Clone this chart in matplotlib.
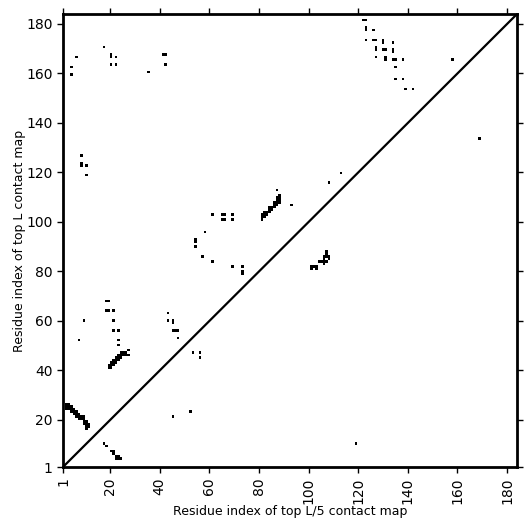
import numpy as np
import matplotlib
matplotlib.use('Agg')
import matplotlib.pyplot as plt

L = 184
ticks = [1, 20, 40, 60, 80, 100, 120, 140, 160, 180]

# contacts above the diagonal (top L map), as (x residue, y residue)
upper_x = [17, 6, 20, 20, 22, 20, 22, 4, 4, 35, 41, 42, 42,
           8, 8, 8, 10, 10, 61, 58, 54, 54, 54, 57, 61,
           18, 19, 18, 19, 21, 43, 113, 108, 87, 93,
           65, 66, 69, 65, 66, 69, 69, 73, 73, 73,
           9, 21, 21, 23, 7, 23, 23, 43, 45, 45, 45, 46, 47, 47, 53, 56, 56,
           122, 123, 123, 123, 126, 123, 126, 127, 130, 130, 134, 127, 127,
           130, 131, 134, 134, 127, 131, 131, 134, 135, 138, 158, 135, 135,
           138, 139, 142,
           81, 81, 81, 82, 82, 82, 83, 83, 84, 84, 84, 85, 85, 86, 86, 86,
           87, 87, 87, 87, 88, 88, 88, 88,
           19, 19, 20, 20, 20, 21, 21, 21, 22, 22, 22, 23, 23, 23, 24, 24, 24,
           25, 25, 26, 26, 27, 27,
           2, 2, 2, 3, 3, 3, 4, 4, 4, 5, 5, 5, 6, 6, 6, 7, 7, 7, 8, 8,
           9, 9, 9, 9, 10, 10, 10, 10, 11, 11]
upper_y = [171, 167, 167, 168, 167, 164, 164, 163, 160, 161, 168, 168, 164,
           127, 123, 124, 123, 119, 103, 96, 92, 93, 90, 86, 84,
           68, 68, 64, 64, 64, 63, 120, 116, 113, 107,
           103, 103, 103, 101, 101, 101, 82, 82, 79, 80,
           60, 60, 56, 56, 52, 52, 50, 60, 59, 60, 56, 56, 56, 53, 47, 47, 45,
           182, 182, 178, 179, 178, 174, 174, 174, 173, 174, 173, 170, 171,
           170, 170, 169, 170, 167, 166, 167, 166, 166, 166, 166, 163, 158,
           158, 154, 154,
           101, 102, 103, 102, 103, 104, 103, 104, 104, 105, 106, 105, 106, 106, 107, 108,
           107, 108, 109, 110, 108, 109, 110, 111,
           41, 42, 41, 42, 43, 42, 43, 44, 43, 44, 45, 44, 45, 46, 45, 46, 47,
           46, 47, 46, 47, 46, 48,
           24, 25, 26, 24, 25, 26, 23, 24, 25, 22, 23, 24, 21, 22, 23, 20, 21, 22, 20, 21,
           18, 19, 20, 21, 16, 17, 18, 19, 17, 18]

# contacts below the diagonal (top L/5 map)
lower_x = [107, 107, 106, 107, 108, 106, 108, 104, 105, 106, 107, 106,
           101, 102, 103, 101, 103,
           52, 45, 119, 169, 17, 18, 20, 21, 21, 22, 23, 22, 23, 24]
lower_y = [88, 87, 86, 86, 86, 85, 85, 84, 84, 84, 84, 83,
           82, 82, 82, 81, 81,
           23, 21, 10, 134, 10, 9, 7, 7, 6, 5, 5, 4, 4, 4]

mat = np.zeros((L, L))
for x, y in zip(upper_x + lower_x, upper_y + lower_y):
    mat[y - 1, x - 1] = 1

fig = plt.figure(figsize=(5.31, 5.31), dpi=100)
ax = fig.add_axes([0.1186, 0.1205, 0.855, 0.853])
ax.imshow(mat, cmap='Greys', vmin=0, vmax=1, origin='lower',
          extent=(1, L, 1, L), interpolation='nearest', aspect='auto')
ax.plot([1, L], [1, L], color='black', lw=1.6)
ax.set_xlim(1, L)
ax.set_ylim(1, L)

ax.set_xticks(ticks)
ax.set_yticks(ticks)
ax.set_xticklabels([str(t) for t in ticks], rotation=90)
ax.tick_params(direction='out', length=4, width=1, top=True, right=True,
               labelsize=10)
for s in ax.spines.values():
    s.set_linewidth(2)

ax.set_xlabel('Residue index of top L/5 contact map', fontsize=9, labelpad=1)
ax.set_ylabel('Residue index of top L contact map', fontsize=9, labelpad=0)

fig.savefig('out.png', dpi=100)
